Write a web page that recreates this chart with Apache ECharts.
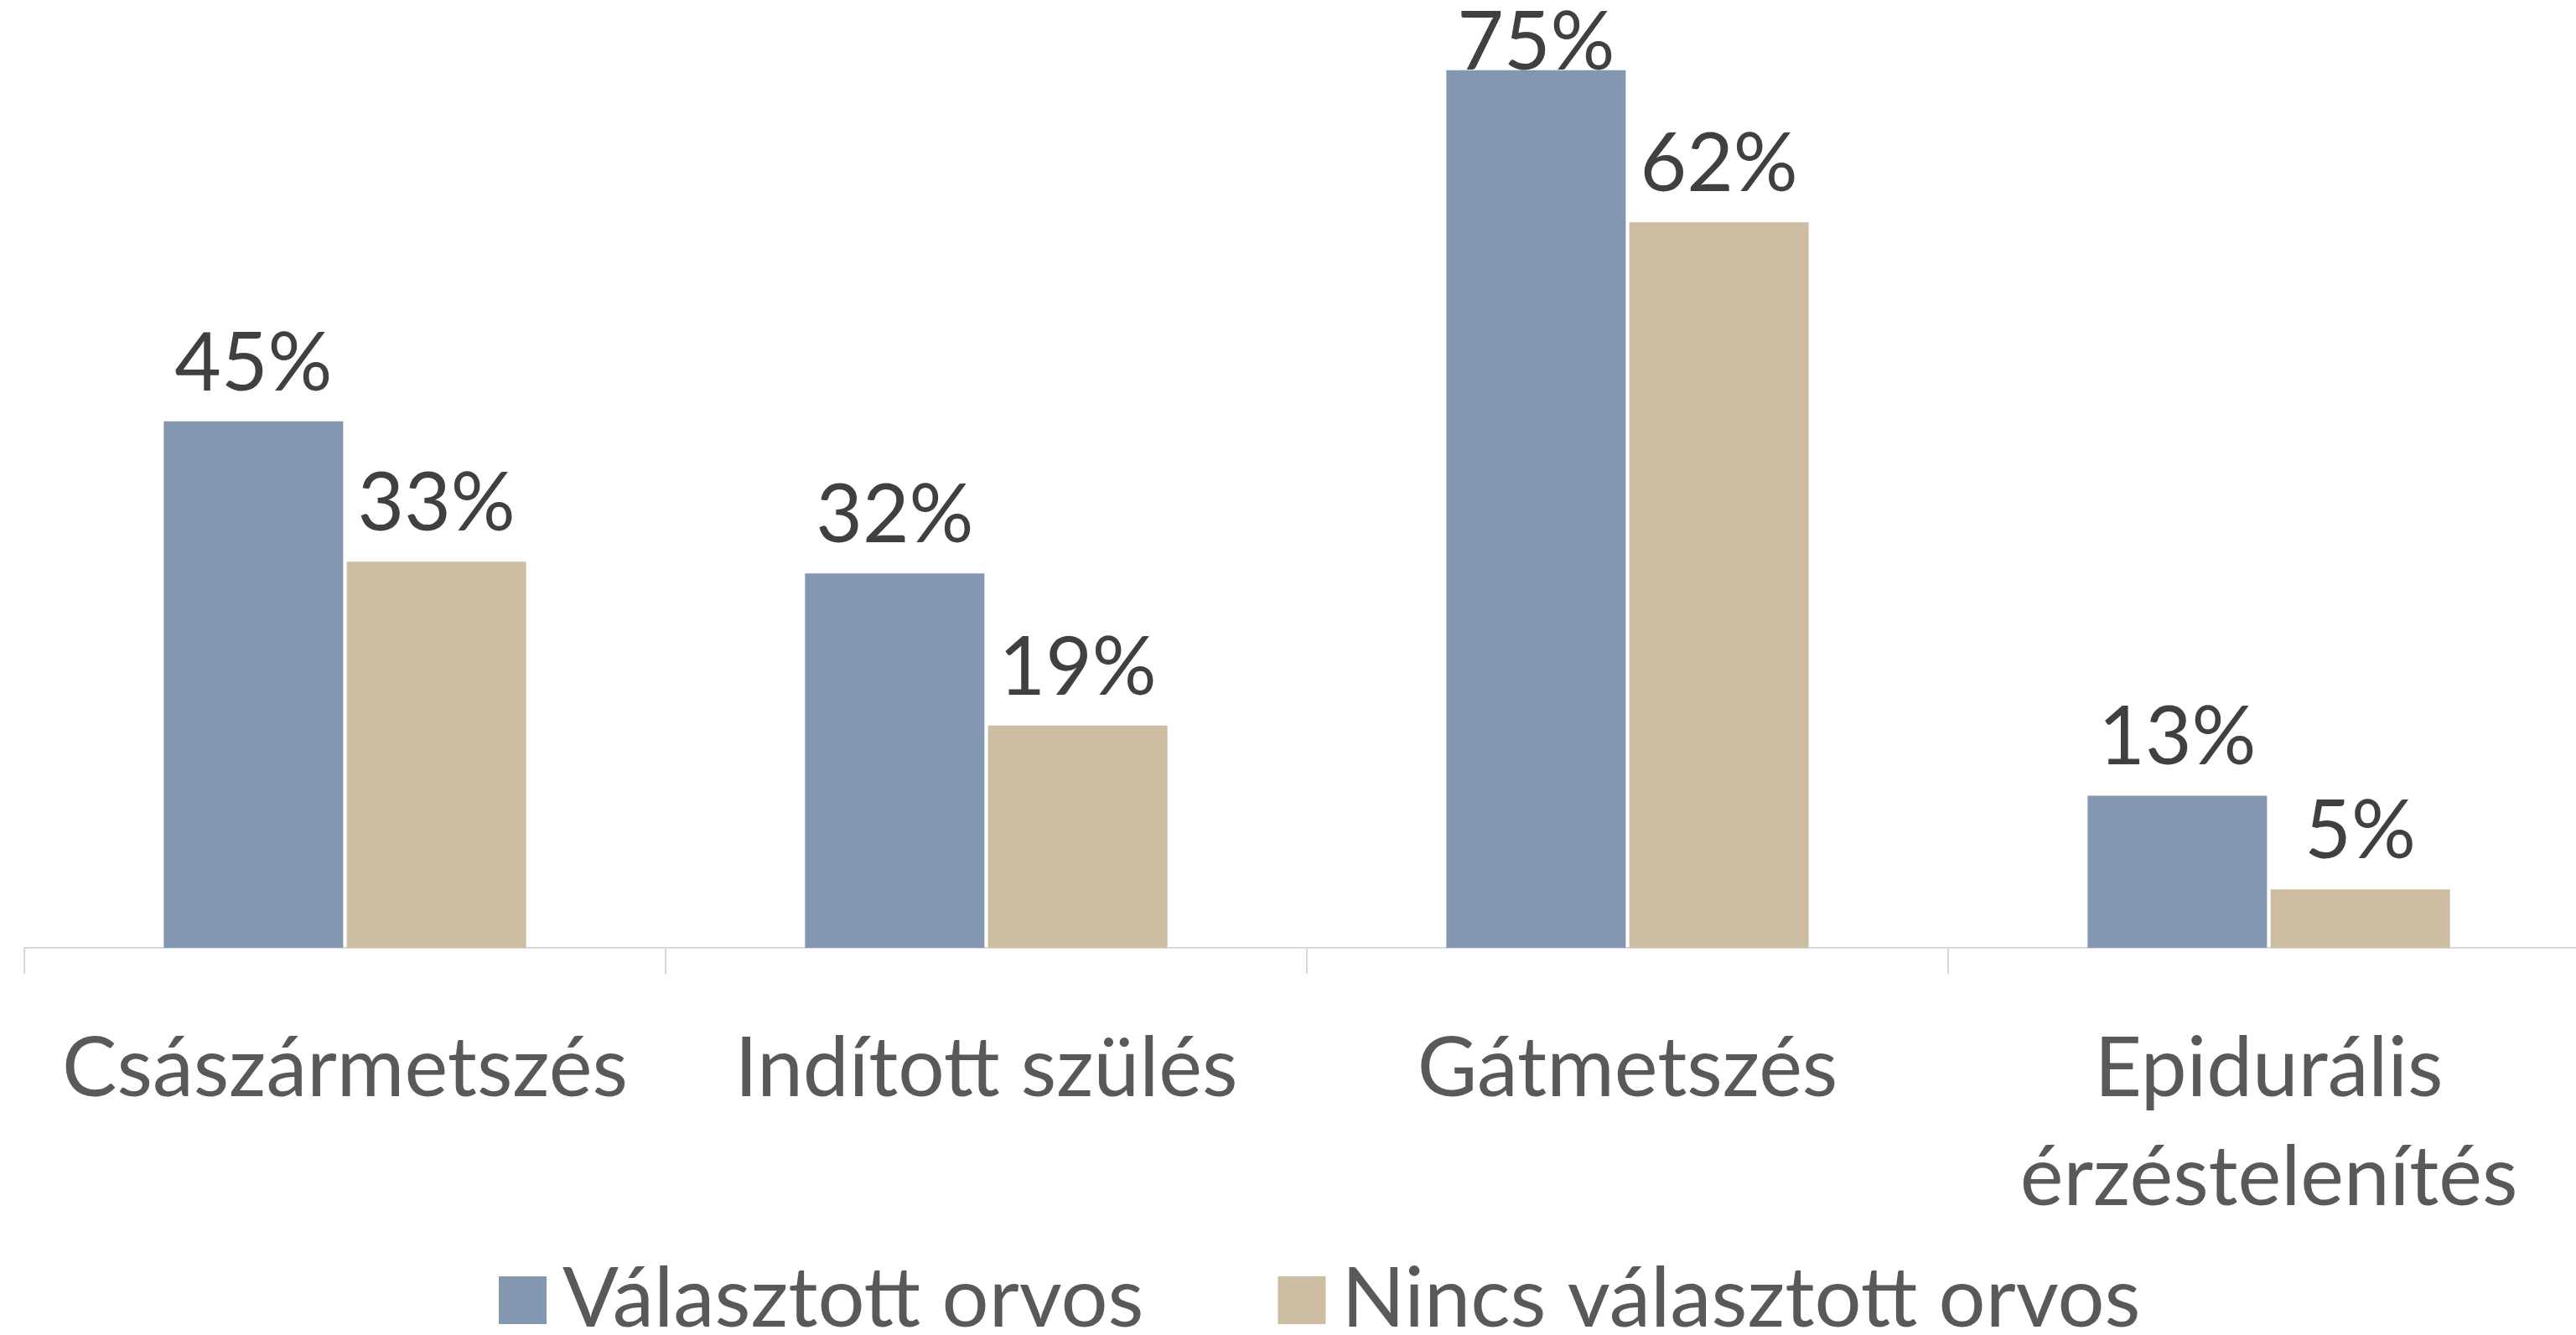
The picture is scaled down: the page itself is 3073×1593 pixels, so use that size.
<!DOCTYPE html>
<html>
<head>
<meta charset="utf-8">
<script src="https://cdn.jsdelivr.net/npm/echarts@6/dist/echarts.min.js"></script>
<style>
  html, body { margin: 0; padding: 0; background: #fff; overflow: hidden; }
  /* a bit wider than the window: the last category boundary falls just off the right edge */
  #chart { width: 3089px; height: 1593px; }
</style>
</head>
<body>
<div id="chart"></div>
<script>
var categories = ['Császármetszés', 'Indított szülés', 'Gátmetszés', 'Epidurális\nérzéstelenítés']
var seriesNames = ['Választott orvos', 'Nincs választott orvos']
var valasztott = [45, 32, 75, 13]
var nincs = [33, 19, 62, 5]

var myChart = echarts.init(document.getElementById('chart'))
var font = 'Lato, "Open Sans", sans-serif'

function labelled (values) {
  // the tallest label is pushed down into the bar so it stays on the canvas
  return values.map(function (v) {
    if (v >= 70) {
      return { value: v, label: { distance: -16 } }
    }
    return v
  })
}

var option = {
  animation: false,
  legend: {
    data: seriesNames,
    left: 590,
    top: 1497,
    icon: 'rect',
    itemWidth: 57,
    itemHeight: 57,
    itemGap: 160,
    textStyle: {
      fontFamily: font,
      fontSize: 99,
      lineHeight: 57,
      color: '#595959',
      padding: [0, 0, 0, 14]
    }
  },
  grid: {
    left: 29,
    right: 0,
    top: 14,
    bottom: 462
  },
  xAxis: {
    type: 'category',
    data: categories,
    axisLine: { lineStyle: { color: '#D9D9D9', width: 2 } },
    axisTick: { show: true, length: 31, lineStyle: { color: '#D9D9D9', width: 2 } },
    axisLabel: {
      fontFamily: font,
      fontSize: 98,
      lineHeight: 130,
      color: '#595959',
      margin: 80,
      interval: 0
    }
  },
  yAxis: {
    type: 'value',
    min: 0,
    max: 80,
    show: false
  },
  series: [
    {
      name: seriesNames[0],
      type: 'bar',
      barWidth: 214,
      barGap: '2%',
      itemStyle: { color: '#8497B0' },
      label: {
        show: true,
        position: 'top',
        distance: 20,
        formatter: '{c}%',
        fontFamily: font,
        fontSize: 96,
        color: '#404040'
      },
      data: labelled(valasztott)
    },
    {
      name: seriesNames[1],
      type: 'bar',
      barWidth: 214,
      barGap: '2%',
      itemStyle: { color: '#CDBDA2' },
      label: {
        show: true,
        position: 'top',
        distance: 20,
        formatter: '{c}%',
        fontFamily: font,
        fontSize: 96,
        color: '#404040'
      },
      data: labelled(nincs)
    }
  ]
}
myChart.setOption(option)
</script>
</body>
</html>
